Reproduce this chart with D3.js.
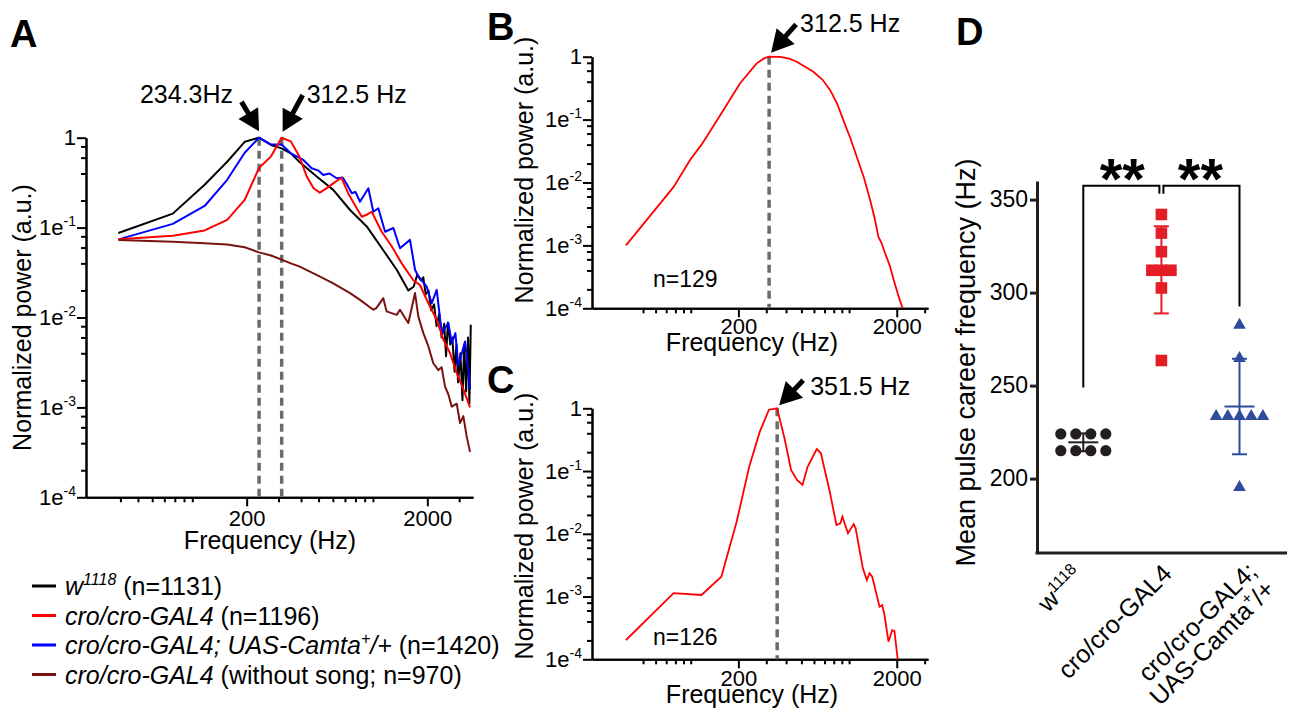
<!DOCTYPE html>
<html>
<head>
<meta charset="utf-8">
<script src="https://cdnjs.cloudflare.com/ajax/libs/d3/7.8.5/d3.min.js"></script>
<style>
body { margin: 0; background: #fff; }
text { font-family: Arial, "Liberation Sans", Helvetica, sans-serif; }
</style>
</head>
<body>
<div id="chart"></div>
<script>
// spectra, [frequency (Hz), normalized power]
var specW1118 = [[39,0.087],[78,0.143],[117,0.30],[156,0.54],[195,0.90],[234,1.0],[273,0.83],[312,0.76],[351,0.67],[391,0.54],
  [488,0.37],[603,0.263],[747,0.157],[924,0.103],[1141,0.056],[1354,0.034],[1570,0.020],[1680,0.022],[1760,0.030],[1840,0.026],
  [1900,0.028],[1960,0.018],[2030,0.020],[2100,0.012],[2180,0.014],[2250,0.008],[2330,0.011],[2400,0.006],[2480,0.0085],[2540,0.0037],
  [2600,0.0088],[2680,0.005],[2750,0.006],[2830,0.0025],[2900,0.005],[2960,0.0019],[3050,0.004],[3130,0.0012],[3200,0.005],[3280,0.0015],
  [3360,0.006],[3420,0.0011],[3480,0.0083]];
var specCro = [[39,0.074],[78,0.081],[117,0.093],[156,0.122],[195,0.203],[234,0.46],[273,0.62],[312,1.0],[351,0.91],[391,0.62],
  [430,0.37],[469,0.274],[508,0.245],[547,0.27],[603,0.31],[650,0.345],[671,0.355],[730,0.24],[867,0.132],[930,0.14],[984,0.150],
  [1118,0.090],[1270,0.062],[1443,0.040],[1673,0.026],[1822,0.023],[2026,0.0144],[2254,0.0094],[2452,0.0057],[2672,0.0040],
  [2910,0.0024],[3165,0.0016],[3448,0.001]];
var specRescue = [[39,0.074],[78,0.110],[117,0.174],[156,0.34],[195,0.68],[234,1.0],[273,0.84],[312,0.84],[351,0.67],[412,0.565],
  [458,0.457],[500,0.43],[531,0.385],[575,0.40],[630,0.354],[680,0.36],[720,0.30],[763,0.241],[800,0.25],[848,0.194],[943,0.274],
  [1005,0.15],[1071,0.164],[1167,0.09],[1297,0.099],[1412,0.059],[1604,0.073],[1710,0.034],[1785,0.0286],[1985,0.022],[2116,0.0144],
  [2254,0.0203],[2404,0.0067],[2614,0.0087],[2730,0.0052],[2860,0.0067],[2970,0.0029],[3235,0.0054],[3374,0.0026],[3448,0.0016]];
var specNoSong = [[39,0.073],[78,0.0695],[117,0.067],[156,0.065],[195,0.0605],[234,0.053],[273,0.049],[312,0.044],[351,0.040],[391,0.037],
  [500,0.029],[603,0.024],[747,0.0187],[848,0.0157],[1005,0.0122],[1044,0.0127],[1141,0.0164],[1190,0.0117],[1354,0.0107],[1412,0.0122],
  [1500,0.0100],[1570,0.0087],[1710,0.0187],[1783,0.0103],[1901,0.0067],[2026,0.0048],[2158,0.0031],[2302,0.0026],[2400,0.0028],
  [2507,0.0017],[2614,0.0014],[2730,0.00102],[2910,0.0011],[3034,0.00067],[3165,0.0008],[3306,0.00047],[3448,0.00032]];
var specB = [[39,0.001],[78,0.0085],[99,0.0228],[117,0.040],[126,0.0535],[161,0.142],[205,0.378],[261,0.785],[290,0.94],[312,1.0],
  [366,0.99],[420,0.93],[467,0.833],[595,0.577],[680,0.43],[758,0.296],[840,0.18],[920,0.098],[1020,0.05],[1118,0.0256],[1240,0.012],
  [1357,0.0053],[1450,0.0027],[1531,0.00138],[1600,0.0011],[1688,0.00075],[1815,0.00046],[1900,0.0003],[2000,0.000193],[2100,0.00013],[2180,0.0001]];
var specC = [[39,0.000203],[78,0.00113],[117,0.00106],[156,0.00207],[195,0.0156],[234,0.117],[273,0.425],[312,0.95],[351,1.0],[391,0.333],
  [430,0.104],[469,0.072],[508,0.06],[547,0.117],[625,0.224],[664,0.192],[755,0.0469],[832,0.0138],[881,0.0147],[907,0.0187],[984,0.0102],
  [1069,0.0143],[1100,0.0122],[1222,0.00282],[1294,0.00183],[1346,0.00235],[1400,0.00207],[1557,0.00069],[1618,0.00073],[1673,0.000508],
  [1774,0.000191],[1871,0.00029],[1934,0.00028],[2028,0.0001]];

var peaksA = [234.3, 312.5];
var peakB = 312.5, peakC = 351.5;

var xMajor = [200, 2000];
var xMinorA = [40,50,60,70,80,90,100,300,400,500,600,700,800,900,1000,3000];
var xMinorBC = [50,60,70,80,90,100,300,400,500,600,700,800,900,1000,3000];
var yMajor = [1, 1e-1, 1e-2, 1e-3, 1e-4];
var yMinor = [2e-4,4e-4,6e-4,8e-4,2e-3,4e-3,6e-3,8e-3,2e-2,4e-2,6e-2,8e-2,2e-1,4e-1,6e-1,8e-1];

// panel D: mean pulse carrier frequency per fly (Hz)
var groupsD = ["w1118", "cro", "rescue"];
var carrierW1118 = [224, 224, 224, 224, 215, 215, 215, 215];
var carrierCro = [342, 332, 322, 312, 312, 312, 302.5, 263.5];
var carrierRescue = [282.5, 264.7, 233.5, 233.5, 233.5, 233.5, 233.5, 195.3];
var yTicksD = [200, 250, 300, 350];

var W = 1291, H = 712;
var black = "#000", red = "#ff0000", blue = "#0000ff", darkred = "#7a1212";

var svg = d3.select("#chart").append("svg")
  .attr("width", W).attr("height", H)
  .style("background", "#fff");

var xA = d3.scaleLog().domain([25.8, 3580]).range([86, 473]);
var yA = d3.scaleLog().domain([1e-4, 1]).range([497.3, 137.7]);
var xB = d3.scaleLog().domain([23.8, 3150]).range([592, 928]);
var yB = d3.scaleLog().domain([1e-4, 1]).range([308.3, 56.7]);
var yC = d3.scaleLog().domain([1e-4, 1]).range([659.3, 408.3]);

// text with italic / superscript pieces
function addParts(t, parts, fs) {
  var shift = 0;
  parts.forEach(function(p) {
    var s = t.append("tspan").text(p.t);
    var target = p.sup ? -0.4 * fs : 0;
    if (target != shift) { s.attr("dy", target - shift); shift = target; }
    if (p.sup) s.attr("font-size", Math.round(fs * 0.62));
    if (p.it) s.attr("font-style", "italic");
  });
}

function logAxes(xs, ys, minorX, pad) {
  var g = svg.append("g");
  var y0 = ys.range()[0], x0 = xs.range()[0];
  g.append("g").attr("transform", "translate(0," + y0 + ")")
    .call(d3.axisBottom(xs).tickValues(minorX).tickSize(5).tickSizeOuter(0).tickFormat(""))
    .selectAll("text").remove();
  g.append("g").attr("transform", "translate(0," + y0 + ")")
    .call(d3.axisBottom(xs).tickValues(xMajor).tickSize(9).tickSizeOuter(0).tickPadding(pad).tickFormat(d3.format("d")));
  g.append("g").attr("transform", "translate(" + x0 + ",0)")
    .call(d3.axisLeft(ys).tickValues(yMinor).tickSize(5).tickSizeOuter(0).tickFormat(""))
    .selectAll("text").remove();
  var ya = g.append("g").attr("transform", "translate(" + x0 + ",0)")
    .call(d3.axisLeft(ys).tickValues(yMajor).tickSize(9).tickSizeOuter(0).tickPadding(1).tickFormat(""));
  g.selectAll("path.domain, line").attr("stroke", "#000").attr("stroke-width", 2);
  g.selectAll("text").attr("font-size", 22).attr("font-family", null).attr("fill", "#000");
  g.selectAll("g").attr("font-family", null);
  ya.selectAll(".tick text").each(function(d) {
    var t = d3.select(this);
    if (d == 1) { t.text("1"); return; }
    addParts(t, [{t: "1e"}, {t: "-" + Math.round(-Math.log10(d)), sup: true}], 22);
  });
  return g;
}

var line = function(xs, ys) {
  return d3.line().x(function(d) { return xs(d[0]); }).y(function(d) { return ys(d[1]); });
};

function dashed(xs, ys, f) {
  svg.append("line")
    .attr("x1", xs(f)).attr("x2", xs(f))
    .attr("y1", ys(1)).attr("y2", ys(1e-4))
    .attr("stroke", "#6b6b6b").attr("stroke-width", 3.5).attr("stroke-dasharray", "8,5");
}

function arrow(tx, ty, dx, dy, headLen, headW, shaftW) {
  var L = Math.sqrt(dx * dx + dy * dy);
  var ux = -dx / L, uy = -dy / L, nx = -uy, ny = ux;
  var bx = tx - ux * headLen, by = ty - uy * headLen;
  var ax = tx + dx, ay = ty + dy;
  var s = shaftW / 2, h = headW / 2;
  var pts = [[ax + nx * s, ay + ny * s], [bx + nx * s, by + ny * s], [bx + nx * h, by + ny * h], [tx, ty],
    [bx - nx * h, by - ny * h], [bx - nx * s, by - ny * s], [ax - nx * s, ay - ny * s]];
  svg.append("path").attr("d", "M" + pts.join("L") + "Z").attr("fill", "#000");
}

function label(x, y, txt, fs, anchor) {
  return svg.append("text").attr("x", x).attr("y", y)
    .attr("font-size", fs).attr("text-anchor", anchor || "start").text(txt);
}

function ylabel(x, y, txt, fs) {
  svg.append("text").attr("transform", "translate(" + x + "," + y + ") rotate(-90)")
    .attr("text-anchor", "middle").attr("font-size", fs).text(txt);
}

// ---------- A ----------
logAxes(xA, yA, xMinorA, 4);
peaksA.forEach(function(f) { dashed(xA, yA, f); });
var seriesA = [[specW1118, black], [specRescue, blue], [specCro, red], [specNoSong, darkred]];
seriesA.forEach(function(s) {
  svg.append("path").datum(s[0]).attr("d", line(xA, yA))
    .attr("fill", "none").attr("stroke", s[1]).attr("stroke-width", 2).attr("stroke-linejoin", "round");
});
arrow(xA(peaksA[0]), yA(1) - 6.5, -17.6, -29.3, 21, 23, 5);
arrow(xA(peaksA[1]) + 1, yA(1) - 6, 20, -36.7, 21, 23, 5);
label(xA(peaksA[0]) - 26, yA(1) - 34.5, "234.3Hz", 25, "end");
label(xA(peaksA[1]) + 25, yA(1) - 34.5, "312.5 Hz", 25);
ylabel(31, 317.5, "Normalized power (a.u.)", 25);
label(270, 549, "Frequency (Hz)", 25, "middle");
svg.append("text").attr("x", 10).attr("y", 47).attr("font-size", 38).attr("font-weight", "bold").text("A");

// legend
var legendRows = [
  [black, [{t: "w", it: true}, {t: "1118", it: true, sup: true}, {t: " (n=1131)"}]],
  [red, [{t: "cro/cro-GAL4", it: true}, {t: " (n=1196)"}]],
  [blue, [{t: "cro/cro-GAL4; UAS-Camta", it: true}, {t: "+", it: true, sup: true}, {t: "/+", it: true}, {t: " (n=1420)"}]],
  [darkred, [{t: "cro/cro-GAL4", it: true}, {t: " (without song; n=970)"}]]
];
legendRows.forEach(function(r, i) {
  var yy = 586 + i * 29.5;
  svg.append("line").attr("x1", 32).attr("x2", 56).attr("y1", yy).attr("y2", yy)
    .attr("stroke", r[0]).attr("stroke-width", 3);
  var t = svg.append("text").attr("x", 65).attr("y", yy + 9).attr("font-size", 25);
  addParts(t, r[1], 25);
});

// ---------- B ----------
logAxes(xB, yB, xMinorBC, 1);
dashed(xB, yB, peakB);
svg.append("path").datum(specB).attr("d", line(xB, yB))
  .attr("fill", "none").attr("stroke", red).attr("stroke-width", 1.8);
arrow(xB(peakB) + 2, yB(1) - 4, 25, -28.4, 22, 24, 5);
label(xB(peakB) + 31, yB(1) - 24.7, "312.5 Hz", 25);
label(653, 287, "n=129", 23);
ylabel(533, 170, "Normalized power (a.u.)", 25);
label(752, 351, "Frequency (Hz)", 25, "middle");
svg.append("text").attr("x", 487).attr("y", 40).attr("font-size", 38).attr("font-weight", "bold").text("B");

// ---------- C ----------
logAxes(xB, yC, xMinorBC, 2);
dashed(xB, yC, peakC);
svg.append("path").datum(specC).attr("d", line(xB, yC))
  .attr("fill", "none").attr("stroke", red).attr("stroke-width", 1.8);
arrow(xB(peakC) + 2, yC(1) - 3, 24, -25, 22, 24, 5);
label(xB(peakC) + 33, yC(1) - 13.3, "351.5 Hz", 25);
label(653, 645, "n=126", 23);
ylabel(533, 526, "Normalized power (a.u.)", 25);
label(752, 703, "Frequency (Hz)", 25, "middle");
svg.append("text").attr("x", 487).attr("y", 393).attr("font-size", 38).attr("font-weight", "bold").text("C");

// ---------- D ----------
var xD = d3.scalePoint().domain(groupsD).range([1083.3, 1239.5]);
var yD = d3.scaleLinear().domain([160, 360]).range([553, 181]);
var colD = ["#231f20", "#e41e26", "#2f4b9b"];
var valsD = [carrierW1118, carrierCro, carrierRescue];
var stepD = [15, 9.5, 11.7];

var gyD = svg.append("g").attr("transform", "translate(1037,0)")
  .call(d3.axisLeft(yD).tickValues(yTicksD).tickSize(7).tickSizeOuter(0).tickPadding(2));
gyD.selectAll("path.domain, line").attr("stroke", "#231f20").attr("stroke-width", 3);
gyD.attr("font-family", null);
gyD.selectAll("text").attr("font-size", 23).attr("fill", "#000");
svg.append("line").attr("x1", 1035.5).attr("x2", 1287).attr("y1", yD(160)).attr("y2", yD(160))
  .attr("stroke", "#231f20").attr("stroke-width", 3);

valsD.forEach(function(vals, gi) {
  var cx = xD(groupsD[gi]);
  var counts = d3.rollup(vals, function(v) { return v.length; }, function(d) { return d; });
  var seen = new Map();
  vals.forEach(function(v) {
    var k = seen.get(v) || 0; seen.set(v, k + 1);
    var px = cx + (k - (counts.get(v) - 1) / 2) * stepD[gi], py = yD(v);
    if (gi == 0) {
      svg.append("circle").attr("cx", px).attr("cy", py).attr("r", 5.6).attr("fill", colD[gi]);
    } else if (gi == 1) {
      svg.append("rect").attr("x", px - 5.8).attr("y", py - 5.8).attr("width", 11.6).attr("height", 11.6).attr("fill", colD[gi]);
    } else {
      svg.append("path").attr("d", d3.symbol().type(d3.symbolTriangle).size(70)())
        .attr("transform", "translate(" + px + "," + py + ")").attr("fill", colD[gi]);
    }
  });
  var m = d3.mean(vals), sd = d3.deviation(vals);
  var eb = svg.append("g").attr("stroke", colD[gi]).attr("stroke-width", 2);
  eb.append("line").attr("x1", cx).attr("x2", cx).attr("y1", yD(m - sd)).attr("y2", yD(m + sd));
  eb.append("line").attr("x1", cx - 15).attr("x2", cx + 15).attr("y1", yD(m)).attr("y2", yD(m));
  [m - sd, m + sd].forEach(function(v) {
    eb.append("line").attr("x1", cx - 7.5).attr("x2", cx + 7.5).attr("y1", yD(v)).attr("y2", yD(v));
  });
});

// significance brackets
var brTop = 357.5, brNotch = 353.2, legLeft = 249, legRight = 292.5;
var x0 = xD(groupsD[0]), x1 = xD(groupsD[1]), x2 = xD(groupsD[2]);
svg.append("path")
  .attr("d", "M" + x0 + "," + yD(legLeft) + "V" + yD(brTop) + "H" + (x1 - 2) + "V" + yD(brNotch)
    + "M" + (x1 + 2) + "," + yD(brNotch) + "V" + yD(brTop) + "H" + x2 + "V" + yD(legRight))
  .attr("fill", "none").attr("stroke", "#000").attr("stroke-width", 2);
[[x0, x1], [x1, x2]].forEach(function(p) {
  svg.append("text").attr("x", (p[0] + p[1]) / 2).attr("y", yD(brTop) + 13)
    .attr("text-anchor", "middle").attr("font-size", 58).attr("font-weight", "bold").text("**");
});

// rotated group labels
var labD = [
  [[{t: "w"}, {t: "1118", sup: true}]],
  [[{t: "cro/cro-GAL4"}]],
  [[{t: "cro/cro-GAL4;"}], [{t: "UAS-Camta"}, {t: "+", sup: true}, {t: "/+"}]]
];
var labPos = [[1, 577], [12, 575], [19, 573]];
labD.forEach(function(lines, gi) {
  var t = svg.append("text")
    .attr("transform", "translate(" + (xD(groupsD[gi]) + labPos[gi][0]) + "," + labPos[gi][1] + ") rotate(-45)")
    .attr("text-anchor", "end").attr("font-size", 25);
  lines.forEach(function(parts, li) {
    var tl = t.append("tspan").attr("x", 0).attr("y", li * 25);
    addParts(tl, parts, 25);
  });
});

ylabel(975, 362.5, "Mean pulse career frequency (Hz)", 27);
svg.append("text").attr("x", 956).attr("y", 45).attr("font-size", 38).attr("font-weight", "bold").text("D");
</script>
</body>
</html>
